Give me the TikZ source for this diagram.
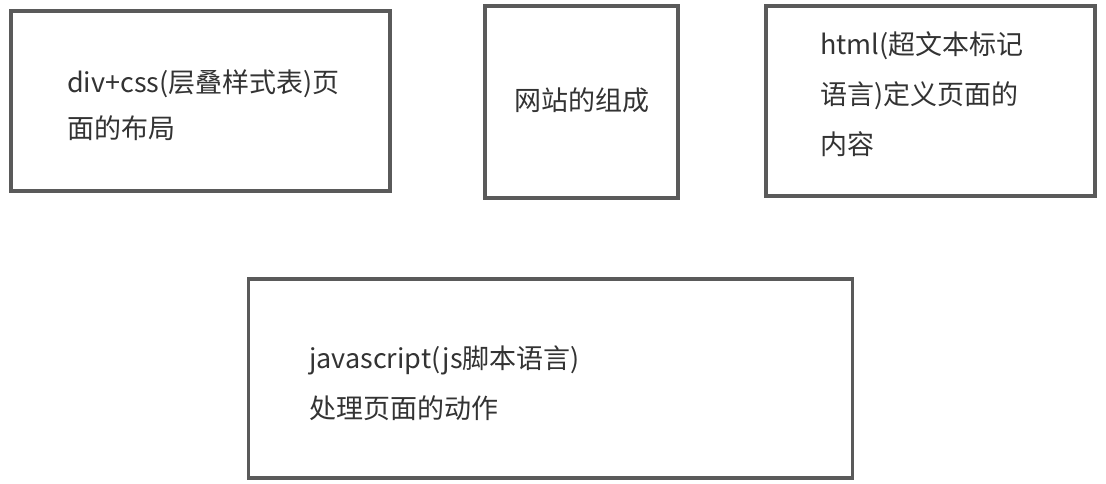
\documentclass[tikz,border=0pt]{standalone}
\usepackage{fontspec}
\setmainfont{Noto Sans CJK SC}
\definecolor{boxgray}{HTML}{5A5A5A}
\definecolor{txtgray}{HTML}{333333}
\tikzset{
  card/.style={draw=boxgray, line width=3.5pt, fill=white, inner sep=0pt},
  label/.style={text=txtgray, inner sep=0pt, align=left, font=\fontsize{27}{46}\selectfont},
}
\begin{document}
\begin{tikzpicture}[x=1pt,y=-1pt]
\useasboundingbox (0,0) rectangle (1106,483);
\node[card, minimum width=379pt, minimum height=180pt] (layout) at (200.5,101) {};
\node[card, minimum width=193pt, minimum height=192pt] (site) at (581.5,102) {};
\node[card, minimum width=329pt, minimum height=190pt] (html) at (930.5,101) {};
\node[card, minimum width=604pt, minimum height=199pt] (js) at (550.5,378.5) {};
\node[label, anchor=west] (layoutT) at (67,105.5) {div+css(层叠样式表)页\\面的布局};
\node[label] (siteT) at (582,100) {网站的组成};
\node[label, anchor=west, font=\fontsize{27}{50}\selectfont] (htmlT) at (820,94) {html(超文本标记\\语言)定义页面的\\内容};
\node[label, anchor=west, font=\fontsize{27}{50}\selectfont] (jsT) at (309,383) {javascript(js脚本语言)\\处理页面的动作};
\end{tikzpicture}
\end{document}
